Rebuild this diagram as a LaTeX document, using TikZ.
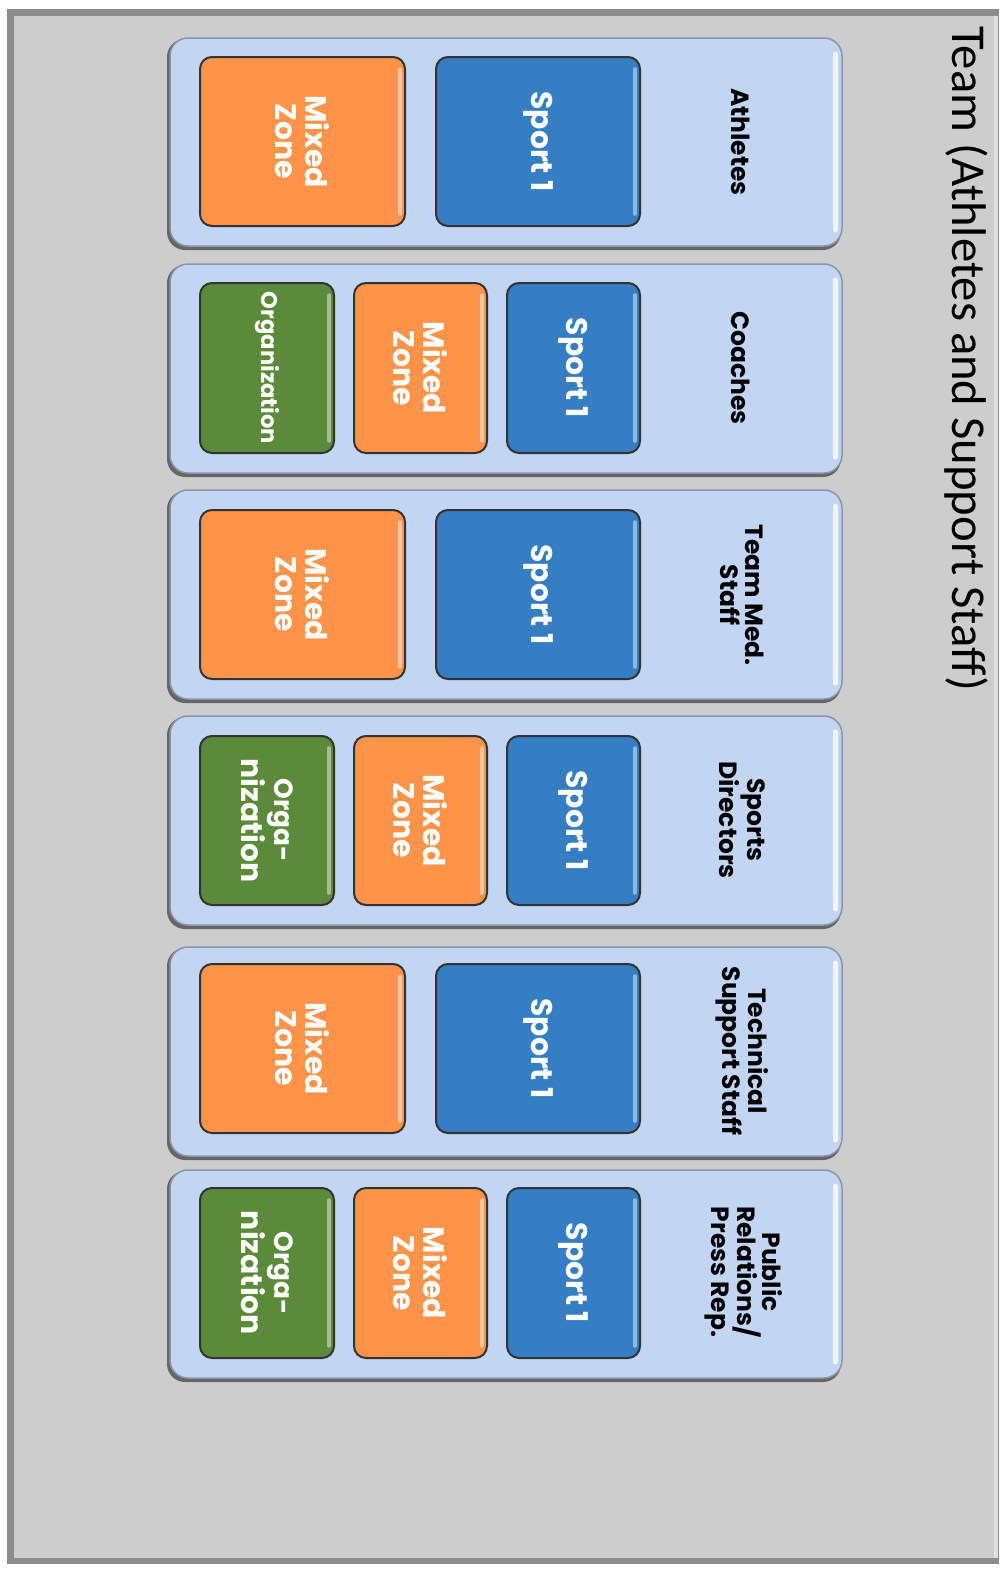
\documentclass[tikz,border=0pt]{standalone}
\usepackage{fontspec}
\setmainfont{Poppins}
\newfontfamily\titlefont{Carlito}
\definecolor{bggray}{HTML}{CDCDCD}
\definecolor{framegray}{HTML}{8C8C8C}
\definecolor{panelblue}{HTML}{C2D5F3}
\definecolor{tblue}{HTML}{367EC3}
\definecolor{torange}{HTML}{FF934A}
\definecolor{tgreen}{HTML}{5B8A3A}
\newcommand{\panelbox}[5]{%
  \fill[black!60, rounded corners=0.36cm] (#2-3,#3+1) rectangle (#4-1,#5+4);
  \node[panel, minimum width={(#4-#2)*0.02cm}, minimum height={(#5-#3)*0.02cm}] (#1) at ({(#2+#4)/2},{(#3+#5)/2}) {};
  \draw[white!80!panelblue, line width=0.1cm, line cap=round] (#4-7,#3+16) -- (#4-7,#5-16);
}
\newcommand{\tilebox}[7]{%
  \node[tile, fill=#6, minimum width={(#5-#3)*0.02cm}, minimum height={(#4-#2)*0.02cm}] (#1) at ({(#2+#4)/2},{(#3+#5)/2}) {#7};
  \draw[#6!55!white, line width=0.07cm, line cap=round] (#4-5,#3+12) -- (#4-5,#5-12);
}
\begin{document}
\begin{tikzpicture}[x=0.02cm,y=-0.02cm,
  panel/.style={fill=panelblue, draw=panelblue!70!black, line width=0.03cm, rounded corners=0.36cm, inner sep=0pt},
  tile/.style={rotate=-90, draw=black!80, line width=0.04cm, rounded corners=0.24cm, text=white,
    font=\bfseries\fontsize{17}{17}\selectfont, align=center, inner sep=0pt},
  lbl/.style={rotate=-90, align=center, font=\bfseries\fontsize{14.2}{14.5}\selectfont, text=black, inner sep=0pt}]
\useasboundingbox (0,0) rectangle (1006,1572);
\fill[white] (0,0) rectangle (1006,1572);
\fill[framegray] (7,9) rectangle (999,1564);
\fill[bggray] (14,16) rectangle (996,1558);
\fill[black!12] (994,16) rectangle (998,1558);

\node[rotate=-90, font=\titlefont\fontsize{27.7}{32}\selectfont, inner sep=0pt] (title) at (966,359) {Team (Athletes and Support Staff)};

% Panel 1
\panelbox{p1}{170}{38}{842}{246}
\tilebox{p1o}{200}{57}{405}{226}{torange}{Mixed\\Zone}
\tilebox{p1b}{436}{57}{640}{226}{tblue}{Sport 1}
\node[lbl] (l1) at (741,142) {Athletes};

% Panel 2
\panelbox{p2}{170}{264}{842}{473}
\tilebox{p2g}{200}{283}{334}{453}{tgreen}{\fontsize{12.9}{13}\selectfont Organization}
\tilebox{p2o}{354}{283}{487}{453}{torange}{Mixed\\Zone}
\tilebox{p2b}{507}{283}{640}{453}{tblue}{Sport 1}
\node[lbl] (l2) at (741,368) {Coaches};

% Panel 3
\panelbox{p3}{170}{490}{842}{699}
\tilebox{p3o}{200}{510}{405}{679}{torange}{Mixed\\Zone}
\tilebox{p3b}{436}{510}{640}{679}{tblue}{Sport 1}
\node[lbl] (l3) at (742,595) {Team Med.\\Staff};

% Panel 4
\panelbox{p4}{170}{716}{842}{925}
\tilebox{p4g}{200}{736}{334}{905}{tgreen}{\fontsize{15}{16}\selectfont Orga-\\nization}
\tilebox{p4o}{354}{736}{487}{905}{torange}{Mixed\\Zone}
\tilebox{p4b}{507}{736}{640}{905}{tblue}{Sport 1}
\node[lbl] (l4) at (742,820) {Sports\\Directors};

% Panel 5
\panelbox{p5}{170}{947}{842}{1156}
\tilebox{p5o}{200}{964}{405}{1133}{torange}{Mixed\\Zone}
\tilebox{p5b}{436}{964}{640}{1133}{tblue}{Sport 1}
\node[lbl] (l5) at (742,1051) {Technical\\Support Staff};

% Panel 6
\panelbox{p6}{170}{1170}{842}{1378}
\tilebox{p6g}{200}{1188}{334}{1358}{tgreen}{\fontsize{15}{16}\selectfont Orga-\\nization}
\tilebox{p6o}{354}{1188}{487}{1358}{torange}{Mixed\\Zone}
\tilebox{p6b}{507}{1188}{640}{1358}{tblue}{Sport 1}
\node[lbl] (l6) at (744,1272) {Public\\Relations/\\Press Rep.};
\end{tikzpicture}
\end{document}
